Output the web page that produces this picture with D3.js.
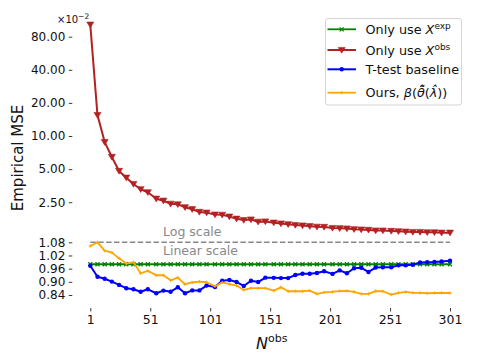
<!DOCTYPE html>
<html>
<head>
<meta charset="utf-8">
<script src="https://cdn.jsdelivr.net/npm/d3@7"></script>
<style>
  body { margin: 0; background: #fff; }
  svg { font-family: "DejaVu Sans", sans-serif; }
</style>
</head>
<body>
<svg id="chart" width="479" height="360"></svg>
<script>
// Data

const nObs = [1, 7, 13, 19, 25, 31, 37, 43, 49, 56, 62, 68, 74, 80, 86, 92, 98, 105, 111, 117,
  123, 129, 135, 141, 147, 154, 160, 166, 172, 178, 184, 190, 196, 203, 209, 215, 221, 227, 233, 239,
  245, 252, 258, 264, 270, 276, 282, 288, 294, 301];

const expOnly = [0.980, 0.980, 0.980, 0.980, 0.980, 0.980, 0.980, 0.980, 0.980, 0.980,
  0.980, 0.980, 0.980, 0.980, 0.980, 0.980, 0.980, 0.980, 0.980, 0.980,
  0.980, 0.980, 0.980, 0.980, 0.980, 0.980, 0.980, 0.980, 0.980, 0.980,
  0.980, 0.980, 0.980, 0.980, 0.980, 0.980, 0.980, 0.980, 0.980, 0.980,
  0.980, 0.980, 0.980, 0.980, 0.980, 0.980, 0.980, 0.980, 0.980, 0.980];

const obsOnly = [103, 15.5, 8.8, 6.45, 4.81, 4.18, 3.66, 3.28, 3.08, 2.69,
  2.58, 2.42, 2.39, 2.25, 2.16, 2.04, 2.01, 1.93, 1.92, 1.85,
  1.77, 1.72, 1.74, 1.66, 1.67, 1.63, 1.60, 1.575, 1.55, 1.535,
  1.515, 1.495, 1.49, 1.457, 1.45, 1.44, 1.42, 1.41, 1.40, 1.38,
  1.38, 1.37, 1.36, 1.35, 1.34, 1.34, 1.33, 1.33, 1.32, 1.32];

const ttest = [0.973, 0.923, 0.914, 0.901, 0.886, 0.871, 0.866, 0.855, 0.866, 0.848,
  0.860, 0.855, 0.875, 0.848, 0.861, 0.861, 0.883, 0.876, 0.905, 0.908,
  0.899, 0.881, 0.905, 0.899, 0.919, 0.918, 0.917, 0.917, 0.931, 0.937,
  0.937, 0.940, 0.948, 0.936, 0.952, 0.939, 0.962, 0.964, 0.945, 0.965,
  0.966, 0.966, 0.975, 0.975, 0.978, 0.988, 0.989, 0.990, 0.993, 0.996];

const ours = [1.063, 1.080, 1.042, 1.033, 1.007, 0.983, 0.989, 0.939, 0.950, 0.930,
  0.930, 0.907, 0.919, 0.889, 0.897, 0.901, 0.898, 0.880, 0.897, 0.890,
  0.883, 0.863, 0.871, 0.871, 0.871, 0.860, 0.875, 0.857, 0.858, 0.857,
  0.860, 0.845, 0.852, 0.854, 0.858, 0.859, 0.854, 0.845, 0.845, 0.858,
  0.857, 0.842, 0.850, 0.854, 0.850, 0.850, 0.848, 0.849, 0.850, 0.849];

const xTicks = [1, 51, 101, 151, 201, 251, 301];
const logTicks = [2.5, 5, 10, 20, 40, 80];
const linTicks = [0.84, 0.90, 0.96, 1.02, 1.08];
const breakValue = 1.08;

// Scales

const svg = d3.select("#chart");

const x = d3.scaleLinear().domain([-14, 316]).range([72.3, 468]);
const yLog = d3.scaleLog().domain([breakValue, 80]).range([242.3, 36.7]);
const yLin = d3.scaleLinear().domain([0.84, breakValue]).range([295, 242.3]);
const y = v => v > breakValue ? yLog(v) : yLin(v);

const axisLeftX = 72.3;
const axisBottomY = 308;

// Axes

function styleAxis(g, size) {
    g.select(".domain").remove();
    g.selectAll(".tick line").attr("stroke", "#222").attr("stroke-width", 0.9);
    g.selectAll(".tick text").attr("fill", "#111").style("font-size", size)
        .style("font-family", "DejaVu Sans");
}

svg.append("g")
    .attr("transform", `translate(${axisLeftX},0)`)
    .call(d3.axisLeft(yLog).tickValues(logTicks).tickFormat(d3.format(".2f")).tickSize(3.5).tickPadding(3.5))
    .call(styleAxis, "12px");

svg.append("g")
    .attr("transform", `translate(${axisLeftX},0)`)
    .call(d3.axisLeft(yLin).tickValues(linTicks).tickFormat(d3.format(".2f")).tickSize(3.5).tickPadding(3.5))
    .call(styleAxis, "12px");

svg.append("g")
    .attr("transform", `translate(0,${axisBottomY})`)
    .call(d3.axisBottom(x).tickValues(xTicks).tickFormat(d3.format("d")).tickSize(3.5).tickPadding(4))
    .call(styleAxis, "12.5px");

// offset text
const off = svg.append("text").attr("x", 57).attr("y", 22.5).style("font-size", "10px").attr("fill", "#111");
off.append("tspan").text("×10");
off.append("tspan").attr("dy", -4).style("font-size", "7.5px").text("−2");

// axis labels
svg.append("text")
    .attr("transform", "translate(23,158) rotate(-90)")
    .attr("text-anchor", "middle")
    .style("font-size", "15px")
    .attr("fill", "#111")
    .text("Empirical MSE");

const xl = svg.append("text").attr("x", 256).attr("y", 349).attr("fill", "#111");
xl.append("tspan").style("font-size", "16px").style("font-style", "italic").text("N");
xl.append("tspan").attr("dy", -7).style("font-size", "11px").text("obs");

// Break line

svg.append("line")
    .attr("x1", x(1)).attr("x2", x(301))
    .attr("y1", y(breakValue)).attr("y2", y(breakValue))
    .attr("stroke", "#888").attr("stroke-width", 1.5)
    .attr("stroke-dasharray", "5.5,2.4");

svg.append("text").attr("x", 163).attr("y", 235.7)
    .style("font-size", "12.5px").attr("fill", "#888").text("Log scale");
svg.append("text").attr("x", 163).attr("y", 255)
    .style("font-size", "12.5px").attr("fill", "#888").text("Linear scale");

// Series

const series = [
    { name: "exp", values: expOnly, color: "green", marker: "x", width: 1.8 },
    { name: "obs", values: obsOnly, color: "#b22222", marker: "v", width: 2 },
    { name: "ttest", values: ttest, color: "blue", marker: "dot", width: 2 },
    { name: "ours", values: ours, color: "orange", marker: "plus", width: 1.8 }
];

const line = d3.line().x(d => x(d[0])).y(d => y(d[1]));

function drawMarker(g, kind, color) {
    if (kind === "x") {
        g.append("path").attr("d", "M-2,-2L2,2M-2,2L2,-2")
            .attr("stroke", color).attr("stroke-width", 1.2).attr("fill", "none");
    } else if (kind === "v") {
        g.append("path").attr("d", "M-3.5,-2.6L3.5,-2.6L0,3.2Z")
            .attr("fill", color).attr("stroke", color).attr("stroke-width", 0.6);
    } else if (kind === "dot") {
        g.append("circle").attr("r", 2.2).attr("fill", color);
    } else {
        g.append("path").attr("d", "M-1.6,0L1.6,0M0,-1.6L0,1.6")
            .attr("stroke", color).attr("stroke-width", 1).attr("fill", "none");
    }
}

series.forEach(s => {
    const pts = nObs.map((n, i) => [n, s.values[i]]);
    const g = svg.append("g").attr("class", "series-" + s.name);
    g.append("path")
        .attr("d", line(pts))
        .attr("fill", "none")
        .attr("stroke", s.color)
        .attr("stroke-width", s.width)
        .attr("stroke-linejoin", "round");
    pts.forEach(p => {
        const m = g.append("g").attr("transform", `translate(${x(p[0])},${y(p[1])})`);
        drawMarker(m, s.marker, s.color);
    });
});

// Legend

const legend = svg.append("g");
legend.append("rect")
    .attr("x", 325.5).attr("y", 18.5).attr("width", 136).attr("height", 86.5)
    .attr("rx", 2.5)
    .attr("fill", "white").attr("fill-opacity", 0.8)
    .attr("stroke", "#d0d0d0").attr("stroke-width", 0.9);

const legendRows = [29.3, 50, 69.3, 92.7];

series.forEach((s, i) => {
    const ry = legendRows[i];
    legend.append("line")
        .attr("x1", 327.5).attr("x2", 356)
        .attr("y1", ry).attr("y2", ry)
        .attr("stroke", s.color).attr("stroke-width", s.width);
    drawMarker(legend.append("g").attr("transform", `translate(341.7,${ry})`), s.marker, s.color);
});

function legendText(ry) {
    return legend.append("text").attr("x", 365.5).attr("y", ry + 4.5)
        .style("font-size", "12.8px").attr("fill", "#111");
}

let t = legendText(legendRows[0]);
t.append("tspan").text("Only use ");
t.append("tspan").style("font-style", "italic").text("X");
t.append("tspan").attr("dy", -5).style("font-size", "9px").text("exp");

t = legendText(legendRows[1]);
t.append("tspan").text("Only use ");
t.append("tspan").style("font-style", "italic").text("X");
t.append("tspan").attr("dy", -5).style("font-size", "9px").text("obs");

t = legendText(legendRows[2]);
t.text("T-test baseline");

t = legendText(legendRows[3]);
t.append("tspan").text("Ours, ");
t.append("tspan").style("font-style", "italic").text("β");
t.append("tspan").text("(");
t.append("tspan").style("font-style", "italic").text("θ\u0303\u0302");
t.append("tspan").text("(");
t.append("tspan").style("font-style", "italic").text("λ\u0302");
t.append("tspan").text("))");
</script>
</body>
</html>
